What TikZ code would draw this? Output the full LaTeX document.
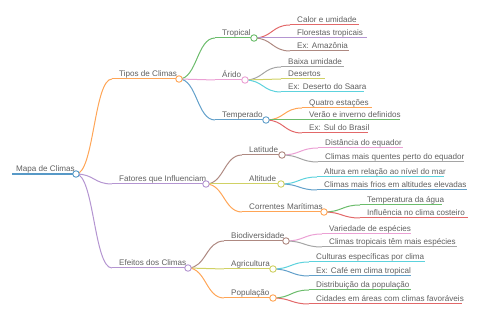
\documentclass[tikz,border=0pt]{standalone}
\usepackage{fontspec}
\setmainfont{Liberation Sans}
\usepackage{tikz}
\usetikzlibrary{calc}
\usepackage{xcolor}

\definecolor{cA}{HTML}{1F77B4}
\definecolor{cB}{HTML}{FF7F0E}
\definecolor{cC}{HTML}{2CA02C}
\definecolor{cD}{HTML}{D62728}
\definecolor{cE}{HTML}{9467BD}
\definecolor{cF}{HTML}{8C564B}
\definecolor{cG}{HTML}{E377C2}
\definecolor{cH}{HTML}{7F7F7F}
\definecolor{cI}{HTML}{BCBD22}
\definecolor{cJ}{HTML}{17BECF}
\definecolor{txtgray}{HTML}{606060}

\tikzset{
  txt/.style={anchor=base west, inner sep=0pt, text=txtgray,
    font=\fontsize{8.1}{9}\selectfont},
  dot/.style={circle, fill=white, line width=0.9pt, minimum size=6.5pt, inner sep=0pt},
}

% \branch{name}{colour}{x start}{x end}{y}{text}
\newcommand{\branch}[6]{%
  \coordinate (#1-s) at (#3,#5);
  \coordinate (#1) at (#4,#5);
  \draw[#2!70!white, line width=1pt] (#1-s) -- (#1);
  \node[txt] (#1-t) at ($(#1-s)+(7,-2.6)$) {#6};}
% \link{parent}{child}{colour}
\newcommand{\link}[3]{%
  \draw[#3!70!white, line width=1pt] (#1) .. controls +(18,0) and +(-18,0) .. (#2-s);}

\begin{document}
\begin{tikzpicture}[x=1pt,y=-1pt]
\useasboundingbox (0,0) rectangle (480,320);

% root
\coordinate (root-s) at (12,174);
\coordinate (root) at (76,174);
\draw[cA!75!white, line width=1.6pt] (root-s) -- (root);
\node[txt] (root-t) at (16,171.4) {Mapa de Climas};

% first level
\branch{tipos}{cB}{112}{179}{79}{Tipos de Climas}
\branch{fatores}{cE}{112}{206}{184}{Fatores que Influenciam}
\branch{efeitos}{cE}{112}{188}{268}{Efeitos dos Climas}
\link{root}{tipos}{cB}
\link{root}{fatores}{cE}
\link{root}{efeitos}{cE}

% tipos de climas
\branch{tropical}{cC}{215}{254}{38}{Tropical}
\branch{arido}{cG}{215}{245}{80}{Árido}
\branch{temperado}{cA}{215}{266}{120}{Temperado}
\link{tipos}{tropical}{cC}
\link{tipos}{arido}{cG}
\link{tipos}{temperado}{cA}

\branch{calor}{cD}{290}{359}{25}{Calor e umidade}
\branch{florestas}{cE}{290}{367}{38}{Florestas tropicais}
\branch{amazonia}{cF}{290}{349}{51}{Ex: Amazônia}
\link{tropical}{calor}{cD}
\link{tropical}{florestas}{cE}
\link{tropical}{amazonia}{cF}

\branch{baixa}{cH}{281}{344}{67}{Baixa umidade}
\branch{desertos}{cI}{281}{325}{79}{Desertos}
\branch{saara}{cJ}{281}{364}{92}{Ex: Deserto do Saara}
\link{arido}{baixa}{cH}
\link{arido}{desertos}{cI}
\link{arido}{saara}{cJ}

\branch{quatro}{cB}{302}{372}{108}{Quatro estações}
\branch{verao}{cC}{302}{400}{120}{Verão e inverno definidos}
\branch{sul}{cD}{302}{368}{133}{Ex: Sul do Brasil}
\link{temperado}{quatro}{cB}
\link{temperado}{verao}{cC}
\link{temperado}{sul}{cD}

% fatores
\branch{latitude}{cF}{242}{282}{155}{Latitude}
\branch{altitude}{cI}{242}{281}{184}{Altitude}
\branch{correntes}{cB}{242}{324}{212}{Correntes Marítimas}
\link{fatores}{latitude}{cF}
\link{fatores}{altitude}{cI}
\link{fatores}{correntes}{cB}

\branch{distancia}{cG}{318}{403}{148}{Distância do equador}
\branch{quentes}{cH}{318}{464}{162}{Climas mais quentes perto do equador}
\link{latitude}{distancia}{cG}
\link{latitude}{quentes}{cH}

\branch{altura}{cJ}{317}{444}{177}{Altura em relação ao nível do mar}
\branch{frios}{cA}{317}{467}{190}{Climas mais frios em altitudes elevadas}
\link{altitude}{altura}{cJ}
\link{altitude}{frios}{cA}

\branch{temperatura}{cC}{360}{442}{205}{Temperatura da água}
\branch{costeiro}{cD}{360}{468}{218}{Influência no clima costeiro}
\link{correntes}{temperatura}{cC}
\link{correntes}{costeiro}{cD}

% efeitos
\branch{biodiv}{cF}{224}{286}{241}{Biodiversidade}
\branch{agricultura}{cI}{224}{273}{269}{Agricultura}
\branch{populacao}{cB}{224}{273}{298}{População}
\link{efeitos}{biodiv}{cF}
\link{efeitos}{agricultura}{cI}
\link{efeitos}{populacao}{cB}

\branch{variedade}{cG}{322}{411}{234}{Variedade de espécies}
\branch{tropicais}{cH}{322}{457}{247}{Climas tropicais têm mais espécies}
\link{biodiv}{variedade}{cG}
\link{biodiv}{tropicais}{cH}

\branch{culturas}{cJ}{309}{425}{262}{Culturas específicas por clima}
\branch{cafe}{cA}{309}{411}{276}{Ex: Café em clima tropical}
\link{agricultura}{culturas}{cJ}
\link{agricultura}{cafe}{cA}

\branch{distrib}{cC}{309}{411}{290}{Distribuição da população}
\branch{cidades}{cD}{309}{462}{304}{Cidades em áreas com climas favoráveis}
\link{populacao}{distrib}{cC}
\link{populacao}{cidades}{cD}

% circles on top
\node[dot, draw=cA!75!white] (root-o) at (root) {};
\node[dot, draw=cB!70!white] (tipos-o) at (tipos) {};
\node[dot, draw=cE!70!white] (fatores-o) at (fatores) {};
\node[dot, draw=cE!70!white] (efeitos-o) at (efeitos) {};
\node[dot, draw=cC!70!white] (tropical-o) at (tropical) {};
\node[dot, draw=cG!70!white] (arido-o) at (arido) {};
\node[dot, draw=cA!70!white] (temperado-o) at (temperado) {};
\node[dot, draw=cF!70!white] (latitude-o) at (latitude) {};
\node[dot, draw=cI!70!white] (altitude-o) at (altitude) {};
\node[dot, draw=cB!70!white] (correntes-o) at (correntes) {};
\node[dot, draw=cF!70!white] (biodiv-o) at (biodiv) {};
\node[dot, draw=cI!70!white] (agricultura-o) at (agricultura) {};
\node[dot, draw=cB!70!white] (populacao-o) at (populacao) {};
\end{tikzpicture}
\end{document}
